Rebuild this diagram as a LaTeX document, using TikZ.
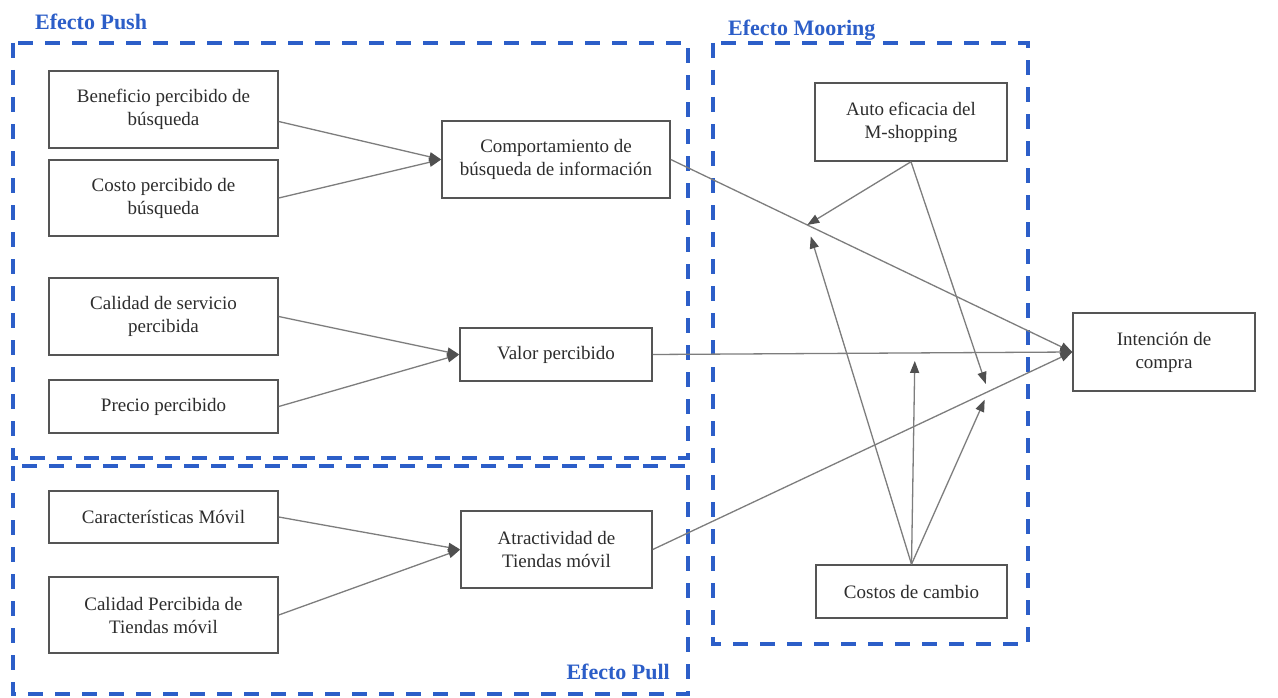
\documentclass[tikz,border=0pt]{standalone}
\usepackage{fontspec}
\setmainfont{Liberation Serif}
\usetikzlibrary{arrows.meta,calc}

\definecolor{groupblue}{RGB}{44,94,200}
\definecolor{boxline}{RGB}{85,85,85}
\definecolor{boxtext}{RGB}{45,45,45}
\definecolor{linkgray}{RGB}{125,125,125}
\definecolor{tipgray}{RGB}{80,80,80}

\begin{document}
\begin{tikzpicture}[x=1bp,y=-1bp,
  factor/.style={draw=boxline, line width=1.5bp, fill=white, text=boxtext,
    align=center, inner sep=0pt,
    font=\fontsize{19bp}{23bp}\selectfont},
  group/.style={draw=groupblue, line width=4bp, dash pattern=on 15bp off 12bp},
  grouplabel/.style={text=groupblue, inner sep=0pt,
    font=\fontsize{22bp}{26bp}\selectfont\bfseries},
  link/.style={draw=linkgray, line width=1.3bp,
    -{Triangle[length=12bp,width=9bp,color=tipgray]}}
]
% page
\fill[white] (0,0) rectangle (1278,698);
\useasboundingbox (0,0) rectangle (1278,698);

% dashed groups
\draw[group] (13,43) rectangle (688,458);
\draw[group] (13,466) rectangle (688,694);
\draw[group] (713,43) rectangle (1028,644);

\node[grouplabel, anchor=base west] (lpush) at (35,30) {Efecto Push};
\node[grouplabel, anchor=base west] (lmoor) at (728,36) {Efecto Mooring};
\node[grouplabel, anchor=base east] (lpull) at (670,679) {Efecto Pull};

% push factors
\node[factor, minimum width=229bp, minimum height=77bp] (ben) at (163.5,109.5) {Beneficio percibido de\\búsqueda};
\node[factor, minimum width=229bp, minimum height=76bp] (cos) at (163.5,198) {Costo percibido de\\búsqueda};
\node[factor, minimum width=228bp, minimum height=77bp] (comp) at (556,159.5) {Comportamiento de\\búsqueda de información};
\node[factor, minimum width=229bp, minimum height=77bp] (cal) at (163.5,316.5) {Calidad de servicio\\percibida};
\node[factor, minimum width=229bp, minimum height=53bp] (pre) at (163.5,406.5) {Precio percibido};
\node[factor, minimum width=192bp, minimum height=53bp] (val) at (556,354.5) {Valor percibido};

% pull factors
\node[factor, minimum width=229bp, minimum height=52bp] (car) at (163.5,517) {Características Móvil};
\node[factor, minimum width=229bp, minimum height=76bp] (calp) at (163.5,615) {Calidad Percibida de\\Tiendas móvil};
\node[factor, minimum width=191bp, minimum height=77bp] (atr) at (556.5,549.5) {Atractividad de\\Tiendas móvil};

% mooring factors
\node[factor, minimum width=192bp, minimum height=78bp] (auto) at (911,122) {Auto eficacia del\\M-shopping};
\node[factor, minimum width=191bp, minimum height=53bp] (cost) at (911.5,591.5) {Costos de cambio};

% outcome
\node[factor, minimum width=182bp, minimum height=78bp] (int) at (1164,352) {Intención de\\compra};

% direct paths
\draw[link] ([yshift=-12bp]ben.east) -- (comp.west);
\draw[link] (cos.east) -- (comp.west);
\draw[link] (cal.east) -- (val.west);
\draw[link] (pre.east) -- (val.west);
\draw[link] (car.east) -- (atr.west);
\draw[link] (calp.east) -- (atr.west);
\draw[link] (comp.east) -- (int.west);
\draw[link] (val.east) -- (int.west);
\draw[link] (atr.east) -- (int.west);

% moderation points on the paths
\coordinate (m1) at ($(comp.east)!0.34!(int.west)$);
\coordinate (m2) at ($(val.east)!0.625!(int.west)$);
\coordinate (m3) at ($(atr.east)!0.80!(int.west)$);

\draw[link] (auto.south) -- (m1);
\draw[link, shorten >=12bp] (cost.north) -- (m1);
\draw[link, shorten >=8bp] (cost.north) -- (m2);
\draw[link, shorten >=8bp] (auto.south) -- (m3);
\draw[link, shorten >=9bp] (cost.north) -- (m3);
\end{tikzpicture}
\end{document}
